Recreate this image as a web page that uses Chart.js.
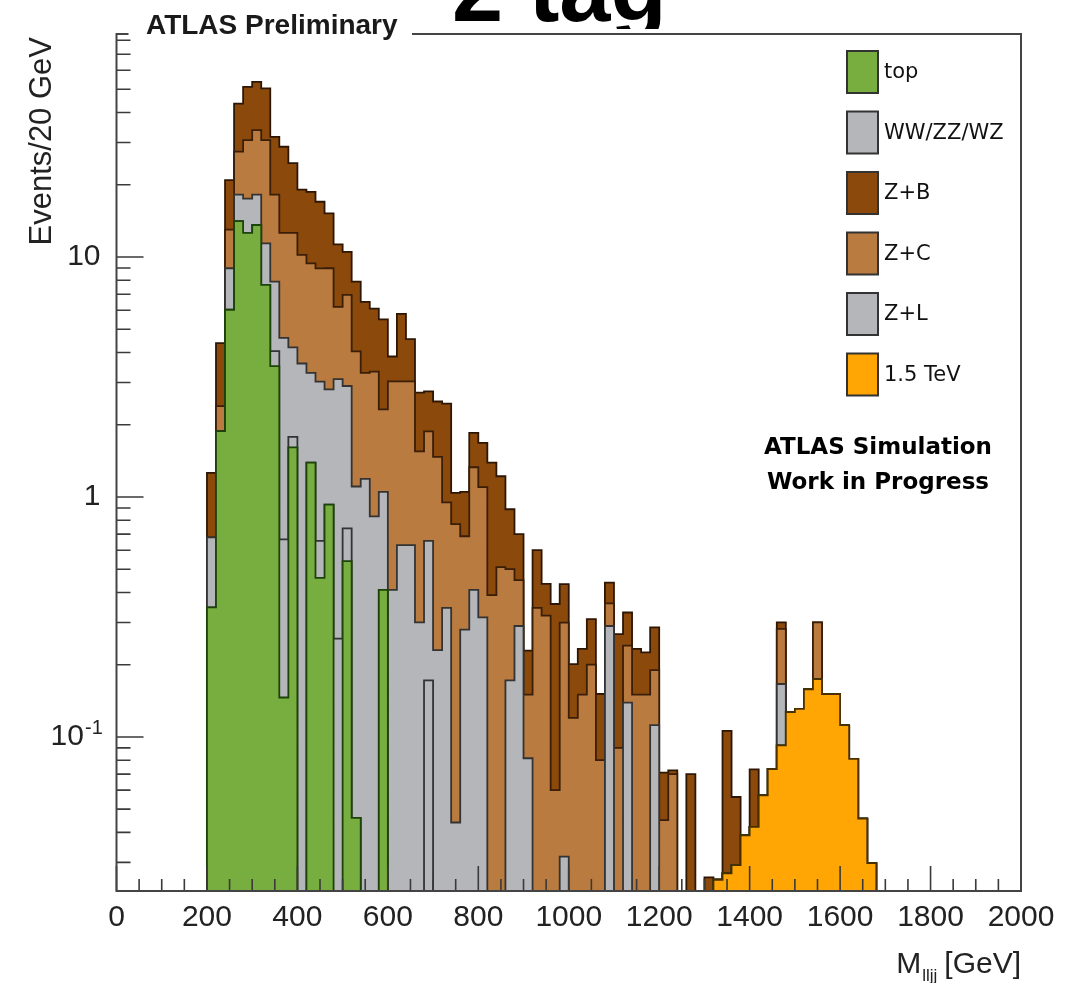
<!DOCTYPE html>
<html>
<head>
<meta charset="utf-8">
<script src="https://cdn.jsdelivr.net/npm/chart.js@4.4.1/dist/chart.umd.min.js"></script>
<style>
  html, body { margin: 0; padding: 0; background: #fff; }
  #wrap { width: 1085px; height: 983px; position: relative; }
</style>
</head>
<body>
<div id="wrap"><canvas id="c" width="1085" height="983"></canvas></div>
<script>
// ---- binning (GeV) ----
var BIN_WIDTH = 20;
var FIRST_BIN = 200;        // lower edge of the first filled bin
var X_MIN = 0, X_MAX = 2000;
var Y_MIN = 0.0228, Y_MAX = 85;
var X_TICKS = [0, 200, 400, 600, 800, 1000, 1200, 1400, 1600, 1800, 2000];
var Y_TICKS = [0.1, 1, 10];

// ---- events per 20 GeV bin, bins 200-220 ... 1660-1680 ----
var topQ = [0.347, 1.88, 6.03, 14.1, 12.6, 13.6, 7.66, 3.51, 0.146, 1.61,
  0, 1.39, 0.46, 0.93, 0, 0.54, 0.046, 0, 0, 0.41,
  0, 0, 0, 0, 0, 0, 0, 0, 0, 0,
  0, 0, 0, 0, 0, 0, 0, 0, 0, 0,
  0, 0, 0, 0, 0, 0, 0, 0, 0, 0,
  0, 0, 0, 0, 0, 0, 0, 0, 0, 0,
  0, 0, 0, 0, 0, 0, 0, 0, 0, 0,
  0, 0, 0, 0];
var diboson = [0, 0, 0, 0, 0, 0, 0, 0.54, 0.52, 0.17,
  0, 0, 0.196, 0, 0.257, 0.2, 0, 0, 0, 0,
  0, 0, 0, 0, 0.172, 0, 0, 0, 0, 0,
  0, 0, 0, 0, 0, 0, 0, 0, 0, 0,
  0, 0, 0, 0, 0, 0, 0, 0, 0, 0,
  0, 0, 0, 0, 0, 0, 0, 0, 0, 0,
  0, 0, 0, 0, 0, 0, 0, 0, 0, 0,
  0, 0, 0, 0];
var zLight = [0.331, 0, 2.95, 4.1, 4.9, 4.6, 3.74, 3.85, 3.94, 2.42,
  3.6, 1.9, 2.37, 1.88, 2.84, 2.16, 1.06, 1.19, 0.83, 0.64,
  0.41, 0.63, 0.63, 0.30, 0.484, 0.23, 0.345, 0.044, 0.28, 0.41,
  0.315, 0, 0, 0.172, 0.29, 0.0815, 0, 0, 0, 0.0317,
  0, 0, 0, 0, 0.29, 0, 0.139, 0, 0, 0.112,
  0, 0, 0, 0, 0, 0, 0, 0, 0, 0,
  0, 0, 0, 0.074, 0, 0, 0, 0, 0, 0,
  0, 0, 0, 0];
var zCharm = [0, 0.51, 4.02, 9.3, 13.2, 15.6, 19.3, 10.3, 8.0, 8.4,
  6.6, 6.11, 5.95, 6.17, 3.1, 4.06, 2.94, 2.1, 2.5, 1.27,
  2.62, 2.4, 2.4, 1.25, 1.22, 1.24, 0.605, 0.726, 0.406, 0.92,
  0.785, 0.39, 0.51, 0.328, 0.16, 0.0685, 0.345, 0.32, 0.06, 0.268,
  0.12, 0.15, 0.2, 0.08, 0.07, 0.09, 0.101, 0.15, 0.15, 0.078,
  0.045, 0.07, 0, 0, 0, 0, 0, 0, 0, 0,
  0, 0, 0, 0.116, 0, 0, 0, 0.126, 0, 0,
  0, 0, 0, 0];
var zBottom = [0.582, 1.99, 7.9, 16.1, 20.5, 19.9, 19.7, 13.5, 16.2, 12.0,
  8.9, 9.3, 8.02, 6.22, 5.1, 3.54, 3.85, 3.21, 2.77, 3.18,
  0.82, 2.77, 1.52, 1.17, 0.88, 1.03, 1.5, 0.27, 0.364, 0.52,
  0.58, 1.0, 0.71, 0.389, 0.25, 0.079, 0.255, 0.114, 0.298, 0.134,
  0.081, 0.083, 0.11, 0.071, 0.08, 0.178, 0.09, 0.083, 0.075, 0.096,
  0.026, 0.0025, 0, 0.07, 0, 0.026, 0, 0.079, 0.027, 0,
  0.031, 0, 0, 0.018, 0, 0, 0, 0, 0, 0,
  0, 0, 0, 0];
var signal = [0, 0, 0, 0, 0, 0, 0, 0, 0, 0,
  0, 0, 0, 0, 0, 0, 0, 0, 0, 0,
  0, 0, 0, 0, 0, 0, 0, 0, 0, 0,
  0, 0, 0, 0, 0, 0, 0, 0, 0, 0,
  0, 0, 0, 0, 0, 0, 0, 0, 0, 0,
  0, 0, 0, 0, 0, 0, 0.0254, 0.027, 0.0292, 0.0389,
  0.0422, 0.0571, 0.0735, 0.0922, 0.127, 0.131, 0.158, 0.174, 0.151, 0.151,
  0.112, 0.081, 0.0457, 0.0298];

// stacking order, bottom first
var STACK = [
  { label: "1.5 TeV",   values: signal,  fill: "#ffa604", line: "#4a3000" },
  { label: "top",       values: topQ,    fill: "#78ad40", line: "#1c4309" },
  { label: "WW/ZZ/WZ",  values: diboson, fill: "#b4b6b9", line: "#333333" },
  { label: "Z+L",       values: zLight,  fill: "#b4b6b9", line: "#333333" },
  { label: "Z+C",       values: zCharm,  fill: "#b97b3f", line: "#3a1e08" },
  { label: "Z+B",       values: zBottom, fill: "#8b4a0b", line: "#2e1604" }
];
var LEGEND_ORDER = ["top", "WW/ZZ/WZ", "Z+B", "Z+C", "Z+L", "1.5 TeV"];

var FLOOR = 0.005;   // empty bins fall below the axis and are clipped
var nBins = topQ.length;
var running = [];
for (var i = 0; i < nBins; i++) running.push(0);

var datasets = STACK.map(function(s) {
  running = running.map(function(v, k) { return v + s.values[k]; });
  var cum = running.slice();
  var pts = [];
  for (var x = X_MIN; x < X_MAX; x += BIN_WIDTH) {
    var k = (x - FIRST_BIN) / BIN_WIDTH;
    var v = (k >= 0 && k < nBins) ? cum[k] : 0;
    pts.push({ x: x, y: v > 0 ? v : FLOOR });
  }
  pts.push({ x: X_MAX, y: FLOOR });
  return {
    label: s.label,
    data: pts,
    stepped: "before",
    fill: "start",
    backgroundColor: s.fill,
    borderColor: s.line,
    borderWidth: 1.8,
    pointRadius: 0,
    tension: 0
  };
});

var SANS = '"Liberation Sans", Arial, Helvetica, sans-serif';

// slide title, only its lower part shows above the plot
var slideTitle = {
  id: "slideTitle",
  beforeDraw: function(chart) {
    var ctx = chart.ctx;
    ctx.save();
    ctx.beginPath();
    ctx.rect(0, 0, chart.width, 29);
    ctx.clip();
    ctx.font = "bold 92px " + SANS;
    ctx.fillStyle = "#000";
    ctx.textAlign = "left";
    ctx.textBaseline = "alphabetic";
    ctx.fillText("2 tag", 452, 21);
    ctx.restore();
  }
};

// ROOT-like frame, ticks, legend and labels
var rootFrame = {
  id: "rootFrame",
  afterDatasetsDraw: function(chart) {
    var ctx = chart.ctx, a = chart.chartArea;
    var xs = chart.scales.x, ys = chart.scales.y;
    ctx.save();
    ctx.strokeStyle = "#3a3a3a";
    ctx.lineWidth = 1.6;
    ctx.beginPath();
    for (var v = X_MIN; v <= X_MAX; v += 50) {
      var px = xs.getPixelForValue(v);
      var len = (v % 200 === 0) ? 25 : 12;
      ctx.moveTo(px, a.bottom); ctx.lineTo(px, a.bottom - len);
    }
    for (var d = -2; d <= 1; d++) {
      for (var m = 1; m <= 9; m++) {
        var val = m * Math.pow(10, d);
        if (val < Y_MIN || val > Y_MAX) continue;
        var py = ys.getPixelForValue(val);
        ctx.moveTo(a.left, py); ctx.lineTo(a.left + (m === 1 ? 27 : 14), py);
      }
    }
    ctx.stroke();

    ctx.lineWidth = 2;
    ctx.strokeStyle = "#444";
    ctx.beginPath();
    ctx.moveTo(a.left + 12, a.top);
    ctx.lineTo(a.left, a.top);
    ctx.lineTo(a.left, a.bottom);
    ctx.lineTo(a.right, a.bottom);
    ctx.lineTo(a.right, a.top);
    ctx.lineTo(412, a.top);
    ctx.stroke();

    // exponent of the 10^-1 tick label
    ctx.fillStyle = "#222";
    ctx.textAlign = "left";
    ctx.textBaseline = "alphabetic";
    ctx.font = "20px " + SANS;
    ctx.fillText("-1", 85, ys.getPixelForValue(0.1) - 3);

    // legend
    var byLabel = {};
    STACK.forEach(function(s) { byLabel[s.label] = s; });
    ctx.textAlign = "left";
    ctx.textBaseline = "middle";
    ctx.font = '21px "DejaVu Sans", sans-serif';
    LEGEND_ORDER.forEach(function(name, j) {
      var s = byLabel[name];
      var by = 51 + j * 60.5;
      ctx.fillStyle = s.fill;
      ctx.fillRect(847, by, 31, 42);
      ctx.strokeStyle = "#333";
      ctx.lineWidth = 2;
      ctx.strokeRect(847, by, 31, 42);
      ctx.fillStyle = "#111";
      ctx.fillText(name, 884, by + 22);
    });

    ctx.fillStyle = "#000";
    ctx.textAlign = "center";
    ctx.font = 'bold 23px "DejaVu Sans", sans-serif';
    ctx.fillText("ATLAS Simulation", 878, 448);
    ctx.fillText("Work in Progress", 878, 483);

    ctx.textAlign = "left";
    ctx.textBaseline = "alphabetic";
    ctx.font = "bold 28px " + SANS;
    ctx.fillStyle = "#1a1a1a";
    ctx.fillText("ATLAS Preliminary", 146, 34);

    // axis titles
    ctx.fillStyle = "#222";
    ctx.font = "30px " + SANS;
    ctx.textAlign = "right";
    var g = "[GeV]";
    var gw = ctx.measureText(g).width;
    ctx.fillText(g, a.right, 973);
    ctx.font = "17px " + SANS;
    var sub = "lljj";
    var sw = ctx.measureText(sub).width;
    ctx.fillText(sub, a.right - gw - 7, 981);
    ctx.font = "30px " + SANS;
    ctx.fillText("M", a.right - gw - 7 - sw - 1, 973);

    ctx.save();
    ctx.translate(42, 37);
    ctx.rotate(-Math.PI / 2);
    ctx.textAlign = "right";
    ctx.textBaseline = "middle";
    ctx.font = "31px " + SANS;
    ctx.fillText("Events/20 GeV", 0, 0);
    ctx.restore();

    ctx.restore();
  }
};

new Chart(document.getElementById("c").getContext("2d"), {
  type: "line",
  data: { datasets: datasets },
  options: {
    responsive: false,
    animation: false,
    devicePixelRatio: 1,
    layout: { padding: { top: 32, right: 64, left: 0, bottom: 0 } },
    plugins: { legend: { display: false }, tooltip: { enabled: false } },
    scales: {
      x: {
        type: "linear",
        min: X_MIN, max: X_MAX,
        afterBuildTicks: function(s) { s.ticks = X_TICKS.map(function(v) { return { value: v }; }); },
        afterFit: function(s) { s.height = 92; },
        grid: { display: false, drawTicks: false },
        border: { display: false },
        ticks: {
          font: { size: 30, family: SANS }, color: "#222", padding: 9, maxRotation: 0, autoSkip: false,
          callback: function(v) { return String(v); }
        }
      },
      y: {
        type: "logarithmic",
        min: Y_MIN, max: Y_MAX,
        afterBuildTicks: function(s) { s.ticks = Y_TICKS.map(function(v) { return { value: v }; }); },
        afterFit: function(s) { s.width = 116.5; },
        grid: { display: false, drawTicks: false },
        border: { display: false },
        ticks: {
          font: { size: 30, family: SANS }, color: "#222", padding: 16, autoSkip: false,
          callback: function(v) { return v === 0.1 ? "10\u00A0\u00A0" : String(v); }
        }
      }
    }
  },
  plugins: [slideTitle, rootFrame]
});
</script>
</body>
</html>
